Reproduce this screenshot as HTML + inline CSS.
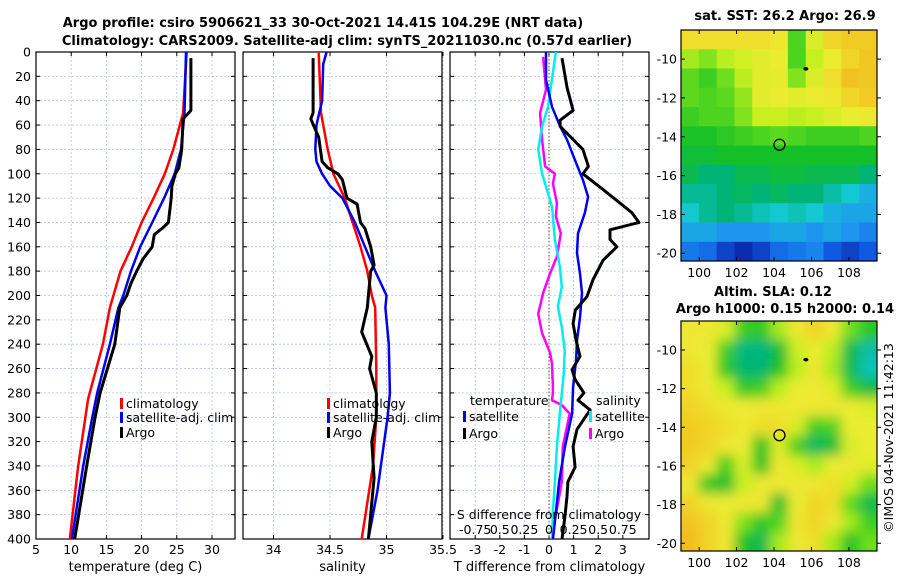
<!DOCTYPE html>
<html><head><meta charset="utf-8"><style>
html,body{margin:0;padding:0;background:#fff;}
svg{display:block;font-family:"DejaVu Sans","Liberation Sans",sans-serif;}
</style></head><body>
<svg id="fig" width="900" height="580" viewBox="0 0 900 580" xmlns="http://www.w3.org/2000/svg">
<defs>
<clipPath id="c1"><rect x="36" y="52" width="199" height="487"/></clipPath>
<clipPath id="c2"><rect x="243" y="52" width="199" height="487"/></clipPath>
<clipPath id="c3"><rect x="450" y="52" width="199" height="487"/></clipPath>
<clipPath id="cm1"><rect x="681" y="30" width="196" height="231"/></clipPath>
<clipPath id="cm2"><rect x="681" y="321" width="196" height="230"/></clipPath>
<filter id="blur" x="-10%" y="-10%" width="120%" height="120%"><feGaussianBlur stdDeviation="6"/></filter>
</defs>
<text x="323" y="27" text-anchor="middle" font-size="13" font-weight="bold">Argo profile: csiro 5906621_33 30-Oct-2021 14.41S 104.29E (NRT data)</text>
<text x="347" y="45" text-anchor="middle" font-size="13" font-weight="bold">Climatology: CARS2009. Satellite-adj clim: synTS_20211030.nc (0.57d earlier)</text>
<text x="785" y="20" text-anchor="middle" font-size="13" font-weight="bold">sat. SST: 26.2 Argo: 26.9</text>
<text x="773" y="296" text-anchor="middle" font-size="13" font-weight="bold">Altim. SLA: 0.12</text>
<text x="785" y="313" text-anchor="middle" font-size="13" font-weight="bold">Argo h1000: 0.15 h2000: 0.14</text>
<text transform="translate(893,438) rotate(-90)" text-anchor="middle" font-size="12.5">©IMOS 04-Nov-2021 11:42:13</text>
</svg>
<script>
// ---------- profile data ----------
const climDepth = [0,50,80,100,120,140,160,180,200,210,240,285,340,400];
const climTemp  = [26.4,25.9,24.5,23.3,21.7,20.0,18.6,17.0,16.0,15.5,14.5,12.4,11.0,9.8];
const satDepth  = [0,50,80,100,120,140,160,180,200,210,240,280,300,340,400];
const satTemp   = [26.3,26.1,25.6,24.7,23.2,21.5,19.8,18.5,17.4,16.7,15.5,13.7,13.0,11.7,10.1];
const argoTDepth= [5,48,55,80,95,100,110,120,140,145,150,160,170,180,190,200,210,240,280,300,340,400];
const argoTemp  = [27.0,27.0,25.9,25.7,25.3,24.8,24.3,24.2,23.8,22.9,21.8,21.5,20.2,19.3,18.5,17.9,16.9,16.2,14.1,13.4,12.2,10.5];

const climSDepth= [0,50,80,100,120,140,160,180,200,210,260,300,340,400];
const climSal   = [34.40,34.42,34.48,34.53,34.63,34.70,34.77,34.83,34.87,34.90,34.91,34.91,34.88,34.78];
const satSDepth = [0,10,40,60,80,90,100,110,120,140,160,180,200,210,240,280,300,320,360,400];
const satSal    = [34.47,34.44,34.43,34.38,34.37,34.38,34.43,34.50,34.61,34.72,34.81,34.90,35.00,34.99,35.02,35.03,35.01,34.98,34.92,34.84];
const argoSDepth= [5,50,55,70,90,95,100,105,120,125,140,145,160,175,180,200,210,230,250,260,280,300,320,350,400];
const argoSal   = [34.35,34.35,34.33,34.40,34.43,34.48,34.57,34.61,34.65,34.74,34.77,34.81,34.86,34.89,34.86,34.84,34.83,34.78,34.87,34.85,34.91,34.91,34.87,34.89,34.84];

const dTArgoDepth=[5,29,48,56,61,80,94,100,113,132,140,146,154,160,171,187,201,212,223,237,250,261,269,280,286,294,310,324,341,353,365,381,400];
const dTArgo    = [0.53,0.73,0.98,0.45,0.45,1.38,1.6,1.38,2.2,3.37,3.66,2.48,2.48,2.76,2.2,1.79,1.54,1.07,0.98,1.1,1.26,0.94,1.06,1.42,1.18,1.67,1.14,0.98,1.06,0.77,0.73,0.65,0.53];
const dTSatDepth= [0,23,45,61,72,89,105,119,132,149,165,182,198,218,237,253,275,297,324,353,378,400];
const dTSat     = [-0.12,-0.12,0.12,0.45,0.73,1.06,1.38,1.59,1.46,1.18,1.14,1.26,1.34,1.26,1.14,1.1,0.98,0.94,0.65,0.41,0.28,0.16];
const dSSatDepth= [0,17,45,61,80,100,116,127,154,176,193,209,226,245,264,297,324,353,378,400];
const dSSat     = [0.07,0.04,-0.01,-0.07,-0.11,-0.07,-0.01,0.03,0.06,0.11,0.13,0.09,0.13,0.16,0.15,0.11,0.08,0.06,0.04,0.03];
const dSArgoDepth=[4,31,50,72,94,100,108,124,135,149,168,182,198,215,231,247,256,275,280,286,290,297,324,353,371,384,400];
const dSArgo    = [-0.06,-0.03,-0.09,-0.07,-0.04,0.06,0.04,0.08,0.07,0.12,0.08,0.01,-0.06,-0.11,-0.07,0.01,0.03,0.04,0.04,0.03,0.13,0.21,0.14,0.13,0.09,0.06,0.04];

const depthTicks = [0,20,40,60,80,100,120,140,160,180,200,220,240,260,280,300,320,340,360,380,400];
const tempTicks = [5,10,15,20,25,30];
const salTicks = [34,34.5,35,35.5];
const salTickLabels = ["34","34.5","35","35.5"];
const diffTicks = [-3,-2,-1,0,1,2,3];
const sDiffLabels = ["-0.75","0.5","0.25","0","0.25","0.5","0.75"];

// ---------- map data ----------
const mapLonTicks=[100,102,104,106,108];
const mapLatTicks=[-10,-12,-14,-16,-18,-20];
const sstGrid=[
[0.88,0.88,0.88,0.88,0.88,0.86,0.62,0.8,0.9,0.92,0.92],
[0.72,0.68,0.74,0.78,0.82,0.84,0.62,0.76,0.84,0.9,0.93],
[0.64,0.6,0.66,0.74,0.82,0.83,0.68,0.8,0.88,0.94,0.93],
[0.64,0.62,0.64,0.7,0.82,0.84,0.82,0.84,0.86,0.9,0.92],
[0.6,0.62,0.62,0.68,0.76,0.76,0.74,0.76,0.8,0.84,0.86],
[0.56,0.56,0.58,0.6,0.62,0.64,0.62,0.6,0.6,0.6,0.62],
[0.53,0.53,0.55,0.55,0.55,0.55,0.55,0.55,0.55,0.55,0.55],
[0.5,0.45,0.45,0.5,0.5,0.52,0.52,0.5,0.5,0.5,0.45],
[0.42,0.42,0.45,0.48,0.45,0.48,0.45,0.45,0.4,0.35,0.3],
[0.35,0.42,0.45,0.42,0.38,0.35,0.38,0.35,0.3,0.28,0.28],
[0.28,0.28,0.25,0.25,0.25,0.28,0.28,0.25,0.28,0.25,0.22],
[0.2,0.18,0.1,0.05,0.1,0.18,0.2,0.22,0.15,0.1,0.15]];
const slaGrid=[
[0.86,0.86,0.8,0.6,0.58,0.72,0.86,0.9,0.86,0.66,0.58],
[0.86,0.84,0.6,0.44,0.44,0.52,0.76,0.84,0.74,0.5,0.4],
[0.88,0.84,0.58,0.46,0.46,0.56,0.74,0.86,0.72,0.5,0.38],
[0.88,0.86,0.76,0.58,0.6,0.74,0.84,0.86,0.82,0.6,0.52],
[0.9,0.88,0.86,0.84,0.86,0.86,0.86,0.86,0.86,0.84,0.8],
[0.92,0.9,0.88,0.86,0.88,0.88,0.8,0.6,0.62,0.84,0.84],
[0.92,0.9,0.86,0.84,0.56,0.8,0.6,0.48,0.52,0.8,0.84],
[0.9,0.86,0.6,0.8,0.56,0.86,0.8,0.72,0.84,0.86,0.82],
[0.86,0.58,0.54,0.76,0.86,0.86,0.86,0.86,0.88,0.78,0.66],
[0.9,0.86,0.84,0.86,0.86,0.54,0.84,0.9,0.88,0.64,0.5],
[0.94,0.9,0.86,0.68,0.58,0.62,0.86,0.9,0.86,0.72,0.6],
[0.95,0.9,0.86,0.56,0.5,0.72,0.86,0.88,0.72,0.56,0.66]];
const profileLon=104.29, profileLat=-14.41;
const dotLon=105.7, dotLat=-10.5;

// ---------- drawing ----------
const NS="http://www.w3.org/2000/svg";
const svg=document.getElementById('fig');
function mk(tag,attrs,parent){const e=document.createElementNS(NS,tag);for(const k in attrs)e.setAttribute(k,attrs[k]);(parent||svg).appendChild(e);return e;}
const yD=d=>52+d*1.2175;
const panels=[
 {x0:36,x1:235,min:5,max:5+199/7.04,clip:'c1'},
 {x0:243,x1:442,min:33.73,max:33.73+199/113,clip:'c2'},
 {x0:450,x1:649,min:-549/24.6+450/24.6,max:(649-549)/24.6,clip:'c3'}];
function xf(p){return v=>p.x0+(v-p.min)/(p.max-p.min)*(p.x1-p.x0);}
const xT=xf(panels[0]), xS=xf(panels[1]), xDT=xf(panels[2]);
const xDS=v=>xDT(v*4);

function frame(p,xticks,xlabels,label,name){
  const g=mk('g',{});
  
  
  const x=xf(p);
  depthTicks.forEach(d=>{
    const l=mk('line',{x1:p.x0,x2:p.x1,y1:yD(d),y2:yD(d),stroke:'#b8c4e8','stroke-width':0.8,'stroke-dasharray':'2,2'},g);
    
    
    mk('line',{x1:p.x0,x2:p.x0+4,y1:yD(d),y2:yD(d),stroke:'#000'},g);
    mk('line',{x1:p.x1-4,x2:p.x1,y1:yD(d),y2:yD(d),stroke:'#000'},g);
  });
  xticks.forEach((v,i)=>{
    const l=mk('line',{x1:x(v),x2:x(v),y1:52,y2:539,stroke:'#b8c4e8','stroke-width':0.8,'stroke-dasharray':'2,2'},g);
    
    
    mk('line',{x1:x(v),x2:x(v),y1:539,y2:535,stroke:'#000'},g);
    mk('line',{x1:x(v),x2:x(v),y1:52,y2:56,stroke:'#000'},g);
    const t=mk('text',{x:x(v),y:554,'text-anchor':'middle','font-size':12.5},g);
    t.textContent=xlabels[i];
    
    
  });
  const r=mk('rect',{x:p.x0,y:52,width:p.x1-p.x0,height:487,fill:'none',stroke:'#000','stroke-width':1.2},g);
  
  
  const t=mk('text',{x:(p.x0+p.x1)/2,y:571,'text-anchor':'middle','font-size':13},g);
  t.textContent=label;
  
  
}
frame(panels[0],tempTicks,tempTicks.map(String),'temperature (deg C)','temperature-panel');
frame(panels[1],salTicks,salTickLabels,'salinity','salinity-panel');
frame(panels[2],diffTicks,diffTicks.map(String),'T difference from climatology','difference-panel');
const zl=mk('line',{x1:xDT(0),x2:xDT(0),y1:52,y2:539,stroke:'#555533','stroke-width':1,'stroke-dasharray':'1.5,2'});


depthTicks.forEach(d=>{
  const t=mk('text',{x:31,y:yD(d)+4.5,'text-anchor':'end','font-size':12.5});
  t.textContent=String(d);
  
  
});

function line(depths,vals,xfun,color,w,clip,name){
  const pts=depths.map((d,i)=>xfun(vals[i]).toFixed(1)+','+yD(d).toFixed(1)).join(' ');
  const pl=mk('polyline',{points:pts,fill:'none',stroke:color,'stroke-width':w,'stroke-linejoin':'round','clip-path':'url(#'+clip+')'});
  
  
}
line(climDepth,climTemp,xT,'#f00',2.5,'c1','climatology-temperature-line');
line(satDepth,satTemp,xT,'#0000ee',2.5,'c1','satellite-temperature-line');
line(argoTDepth,argoTemp,xT,'#000',3,'c1','argo-temperature-line');
line(climSDepth,climSal,xS,'#f00',2.5,'c2','climatology-salinity-line');
line(satSDepth,satSal,xS,'#0000ee',2.5,'c2','satellite-salinity-line');
line(argoSDepth,argoSal,xS,'#000',3,'c2','argo-salinity-line');
line(dSArgoDepth,dSArgo,xDS,'#ff00ff',2.5,'c3','argo-salinity-diff-line');
line(dSSatDepth,dSSat,xDS,'#00eeee',2.5,'c3','satellite-salinity-diff-line');
line(dTSatDepth,dTSat,xDT,'#0000ee',2.5,'c3','satellite-temperature-diff-line');
line(dTArgoDepth,dTArgo,xDT,'#000',3,'c3','argo-temperature-diff-line');

function legend(x,y,color,label){
  const r=mk('rect',{x:x,y:y-10,width:3,height:11,fill:color});
  
  
  const t=mk('text',{x:x+6,y:y,'font-size':12.5});
  t.textContent=label;
  
  
}
legend(120,408,'#f00','climatology');legend(120,422,'#00e','satellite-adj. clim');legend(120,437,'#000','Argo');
legend(327,408,'#f00','climatology');legend(327,422,'#00e','satellite-adj. clim');legend(327,437,'#000','Argo');
const lt=mk('text',{x:470,y:405,'font-size':12.5});lt.textContent='temperature';


const ls=mk('text',{x:596,y:405,'font-size':12.5});ls.textContent='salinity';


legend(463,421,'#00e','satellite');legend(463,438,'#000','Argo');
legend(589,421,'#0ee','satellite');legend(589,438,'#f0f','Argo');
const sd=mk('text',{x:549,y:519,'text-anchor':'middle','font-size':12.5});sd.textContent='S difference from climatology';


diffTicks.forEach((v,i)=>{
  const t=mk('text',{x:xDT(v),y:534,'text-anchor':'middle','font-size':12.5});
  t.textContent=sDiffLabels[i];
  
  
});

const stops=[[0,[10,20,150]],[0.15,[16,90,225]],[0.25,[30,150,240]],[0.35,[20,200,210]],[0.45,[0,180,120]],[0.55,[20,192,40]],[0.65,[100,220,30]],[0.75,[195,240,30]],[0.85,[238,235,50]],[0.95,[242,190,30]],[1,[240,130,20]]];
function cmap(v){for(let i=1;i<stops.length;i++){if(v<=stops[i][0]){const a=stops[i-1],b=stops[i],t=(v-a[0])/(b[0]-a[0]);const c=a[1].map((x,k)=>Math.round(x+(b[1][k]-x)*t));return 'rgb('+c.join(',')+')';}}return 'rgb(240,130,20)';}

function map(top,bottom,grid,clip,blur,name){
  const X=lon=>681+(lon-99.03)/(109.5-99.03)*196;
  const Y=lat=>top+(-8.5-lat)/(-8.5+20.4)*(bottom-top);
  const outer=mk('g',{'clip-path':'url(#'+clip+')'});
  
  
  const g=mk('g',blur?{filter:'url(#blur)'}:{},outer);
  const nr=grid.length,nc=grid[0].length;
  const cw=196/nc,ch=(bottom-top)/nr;
  grid.forEach((row,r)=>row.forEach((v,c)=>{
    let x=681+c*cw,y=top+r*ch,w=cw+0.5,h=ch+0.5;
    if(blur){if(c===0){x-=20;w+=20;}if(c===nc-1)w+=20;if(r===0){y-=20;h+=20;}if(r===nr-1)h+=20;}
    const e=mk('rect',{x:x,y:y,width:w,height:h,fill:cmap(v)},g);
    
    
  }));
  const fr=mk('rect',{x:681,y:top,width:196,height:bottom-top,fill:'none',stroke:'#000','stroke-width':1.2});
  
  
  mapLonTicks.forEach(l=>{
    mk('line',{x1:X(l),x2:X(l),y1:bottom,y2:bottom-4,stroke:'#000'});
    mk('line',{x1:X(l),x2:X(l),y1:top,y2:top+4,stroke:'#000'});
    const t=mk('text',{x:X(l),y:bottom+16,'text-anchor':'middle','font-size':12.5});
    t.textContent=String(l);
    
    
  });
  mapLatTicks.forEach(l=>{
    mk('line',{x1:681,x2:685,y1:Y(l),y2:Y(l),stroke:'#000'});
    mk('line',{x1:877,x2:881,y1:Y(l),y2:Y(l),stroke:'#000'});
    const t=mk('text',{x:677,y:Y(l)+4.5,'text-anchor':'end','font-size':12.5});
    t.textContent=String(l);
    
    
  });
  const ci=mk('circle',{cx:X(profileLon),cy:Y(profileLat),r:5.5,fill:'none',stroke:'#000','stroke-width':1.3});
  
  
  const dt=mk('ellipse',{cx:X(dotLon),cy:Y(dotLat),rx:2.5,ry:1.8,fill:'#000'});
  
  
}
map(30,261,sstGrid,'cm1',false,'sst-map');
map(321,551,slaGrid,'cm2',true,'sla-map');
</script>
</body></html>
